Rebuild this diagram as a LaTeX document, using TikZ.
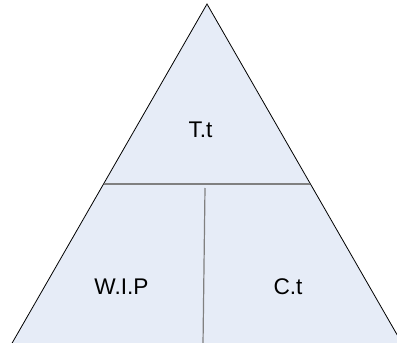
\documentclass[tikz,border=0pt]{standalone}
\usepackage{fontspec}
\setmainfont{Liberation Sans}
\usetikzlibrary{positioning,calc}
\definecolor{pfill}{HTML}{E6ECF7}
\definecolor{pgrid}{HTML}{808080}
\tikzset{
  side/.style={draw=black, line width=0.6pt, line join=miter},
  part/.style={draw=pgrid, line width=0.9pt},
  lbl/.style={font=\fontsize{17}{20}\selectfont, inner sep=0pt, text=black},
}

\begin{document}
\begin{tikzpicture}[x=0.75pt,y=-0.75pt]
\useasboundingbox (0,0) rectangle (397,343);
\clip (0,0) rectangle (397,343);
\coordinate (top) at (207,4);
\coordinate (bl) at (11,345);
\coordinate (br) at (403,345);
% body and its two sides
\fill[pfill] (bl) -- (top) -- (br) -- cycle;
\draw[side] (bl) -- (top) -- (br);
% split lines
\coordinate (hl) at ($(top)!0.528!(bl)$);
\coordinate (hr) at ($(top)!0.528!(br)$);
\draw[part] (hl) -- (hr);
\coordinate (vt) at (205,188);
\coordinate (vb) at (203,345);
\draw[part] (vt) -- (vb);
\node[lbl] (tt) at (200.5,130) {T.t};
\node[lbl] (wip) at (121.5,287) {W.I.P};
\node[lbl] (ct) at (288,287) {C.t};
\end{tikzpicture}
\end{document}
